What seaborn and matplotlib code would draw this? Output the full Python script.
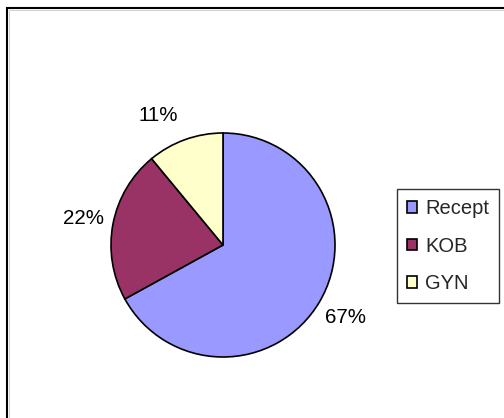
import matplotlib
matplotlib.use("Agg")
import matplotlib.pyplot as plt
from matplotlib.patches import Rectangle
from matplotlib.transforms import offset_copy
import seaborn as sns

# Share of prescriptions by department
categories = ["Recept", "KOB", "GYN"]
shares = [67, 22, 11]
colors = ["#9999FF", "#993366", "#FFFFCC"]

sns.set_style("white")
plt.rcParams["font.family"] = ["Liberation Sans", "DejaVu Sans"]

W, H, DPI = 504, 418, 100
fig = plt.figure(figsize=(W / DPI, H / DPI), dpi=DPI)
fig.patch.set_facecolor("white")

# Chart-area frame (only top and left edges fall inside the canvas)
fig.add_artist(Rectangle((7, -20), 700, H - 8 + 20, transform=None,
                         fill=False, edgecolor="black", linewidth=1.5))
fig.add_artist(Rectangle((9, -20), 700, H - 10 + 20, transform=None,
                         fill=False, edgecolor="#c8c8c8", linewidth=0.6))

# Pie axes: centre and radius in pixels
cx, cy, r = 223, H - 245, 112
ax = fig.add_axes([(cx - r) / W, (cy - r) / H, 2 * r / W, 2 * r / H])
wedges, texts, autotexts = ax.pie(
    shares, colors=colors, startangle=90, counterclock=False,
    autopct=lambda p: f"{p:.0f}%", pctdistance=1.27, radius=1,
    wedgeprops=dict(edgecolor="black", linewidth=1.2),
    textprops=dict(fontsize=14.8, color="black"),
)

# The small top slice's label sits a little to the left of its bisector
autotexts[2].set_transform(offset_copy(ax.transData, fig=fig, x=-12, y=-3,
                                       units="points"))

ax.set_xlim(-1, 1)
ax.set_ylim(-1, 1)
ax.set_aspect("equal")
ax.axis("off")

leg = fig.legend(wedges, categories, loc="upper left",
                 bbox_to_anchor=(397 / W, 1 - 189 / H),
                 fontsize=14.5, frameon=True, fancybox=False,
                 edgecolor="black", handlelength=0.5, handleheight=0.5,
                 handletextpad=0.4, labelspacing=0.92, borderpad=0.5,
                 borderaxespad=0)
leg.get_frame().set_linewidth(1.0)

fig.savefig("out.png", dpi=DPI)
